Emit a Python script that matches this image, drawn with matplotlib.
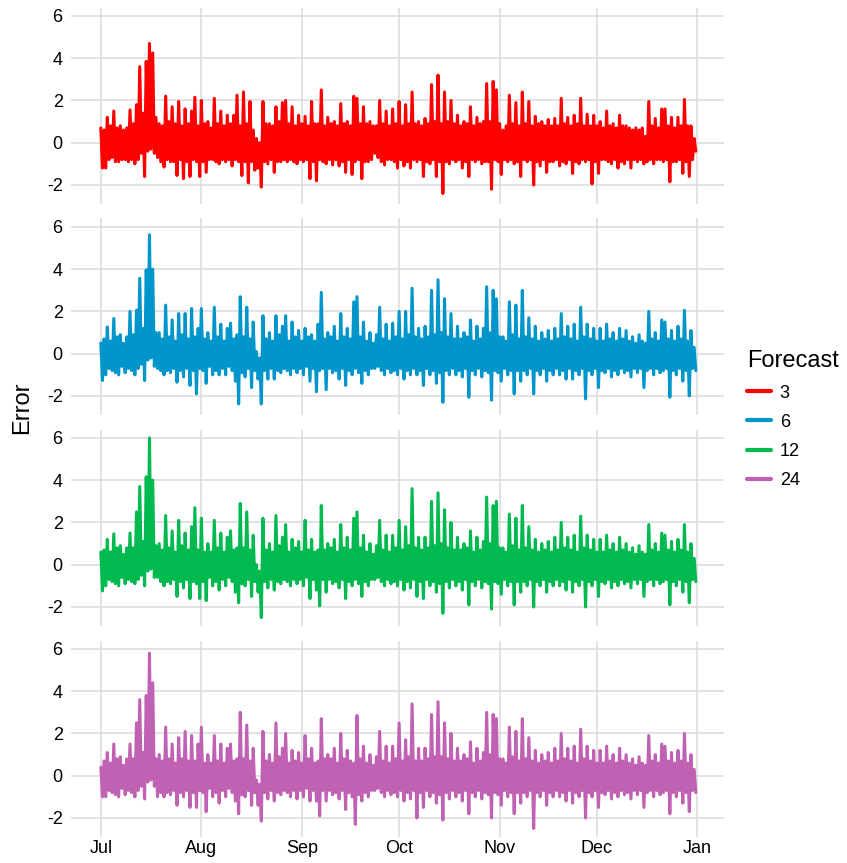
import matplotlib
matplotlib.use('Agg')
import matplotlib.pyplot as plt
import matplotlib.dates as mdates
import pandas as pd

plt.rcParams['font.family'] = ['Liberation Sans', 'DejaVu Sans']
plt.rcParams['axes.unicode_minus'] = False

# one day per entry, Jul 1 - Dec 31; daily high and low of the forecast error
days = pd.date_range('2015-07-01', periods=184, freq='D')

hi_3 = [0.7, 0.6, 1.2, 0.8, 1.5, 0.7, 0.8, 0.6, 0.7, 1.55,
        0.9, 1.8, 3.6, 1.4, 3.85, 4.7, 4.25, 1.2, 0.9, 0.8,
        2.2, 1.0, 1.7, 0.9, 1.95, 0.8, 1.6, 0.9, 1.5, 2.15,
        0.8, 2.0, 0.9, 1.0, 0.7, 2.1, 0.9, 1.5, 0.8, 1.3,
        0.9, 1.3, 2.25, 0.8, 2.4, 0.9, 1.95, 0.6, 0.2, 0.0,
        1.95, 0.9, 0.9, 0.8, 1.7, 1.0, 1.9, 2.0, 0.9, 1.7,
        0.8, 1.3, 0.9, 1.25, 0.8, 1.95, 0.9, 0.9, 2.5, 0.8,
        1.2, 0.9, 1.0, 0.8, 1.85, 0.9, 1.0, 0.8, 2.2, 2.1,
        0.9, 1.7, 0.9, 1.0, 0.8, 0.8, 2.0, 0.9, 1.5, 0.8,
        1.6, 0.9, 1.95, 0.8, 1.8, 0.9, 2.4, 0.9, 1.0, 0.8,
        1.15, 0.9, 2.75, 1.0, 3.2, 0.9, 2.4, 1.0, 2.0, 0.9,
        1.3, 0.8, 1.0, 0.9, 1.7, 0.8, 1.2, 0.9, 1.0, 2.8,
        1.0, 2.9, 2.5, 0.9, 0.6, 0.8, 2.25, 0.9, 1.9, 0.8,
        2.4, 0.9, 1.95, 0.8, 1.25, 0.9, 1.0, 0.8, 1.1, 0.8,
        1.15, 0.8, 2.1, 0.9, 1.2, 0.8, 1.3, 0.9, 2.1, 0.8,
        1.35, 0.8, 1.3, 0.8, 1.0, 0.7, 1.5, 0.8, 0.9, 0.7,
        1.3, 0.8, 0.8, 0.7, 0.6, 0.7, 0.6, 0.7, 0.3, 1.95,
        0.8, 1.15, 0.7, 1.6, 1.6, 0.8, 1.2, 0.7, 1.2, 0.8,
        2.05, 0.8, 0.8, 0.2]
lo_3 = [-1.2, -1.2, -0.8, -0.7, -0.9, -0.9, -0.8, -0.8, -0.9, -0.8,
        -1.0, -0.8, -0.5, -1.6, -0.4, -0.3, -0.5, -0.7, -0.9, -1.15,
        -0.8, -0.9, -0.9, -1.55, -0.8, -1.7, -0.9, -1.6, -0.8, -0.9,
        -1.6, -0.9, -1.4, -0.8, -0.8, -0.9, -1.0, -0.8, -0.9, -0.8,
        -1.1, -0.8, -0.9, -1.55, -0.9, -1.9, -0.9, -1.3, -1.2, -2.1,
        -0.9, -1.0, -0.8, -1.4, -0.9, -0.9, -0.8, -0.9, -0.8, -0.9,
        -1.0, -0.8, -0.9, -0.8, -1.7, -0.9, -1.8, -0.8, -0.9, -1.0,
        -0.8, -1.05, -0.8, -1.1, -0.9, -1.4, -0.8, -1.5, -0.9, -0.8,
        -1.7, -0.9, -0.9, -0.8, -0.5, -0.7, -0.9, -1.05, -0.8, -0.8,
        -0.9, -1.2, -0.8, -1.1, -0.9, -1.2, -0.8, -0.9, -0.8, -1.6,
        -0.9, -1.0, -0.8, -1.6, -0.9, -2.4, -0.9, -1.0, -0.8, -0.9,
        -0.8, -1.2, -0.9, -1.6, -0.8, -0.9, -0.8, -1.0, -0.9, -0.9,
        -2.2, -0.8, -0.9, -1.5, -0.8, -0.9, -0.8, -1.0, -0.9, -1.6,
        -0.8, -0.9, -0.8, -2.0, -0.9, -1.1, -0.8, -1.4, -0.9, -0.9,
        -0.8, -1.1, -0.9, -1.0, -0.8, -1.45, -0.9, -1.0, -0.8, -0.9,
        -0.8, -1.95, -0.9, -1.45, -0.8, -0.8, -0.9, -1.0, -0.8, -1.2,
        -0.9, -1.0, -0.8, -1.2, -0.8, -0.9, -0.8, -1.0, -0.9, -0.8,
        -1.0, -0.8, -0.8, -0.9, -0.8, -1.85, -0.9, -0.9, -0.8, -1.45,
        -0.9, -1.6, -0.8, -0.4]

hi_6 = [0.5, 0.7, 1.27, 0.6, 1.67, 0.8, 0.9, 0.5, 0.8, 2.0,
        0.9, 2.06, 3.57, 1.2, 3.97, 5.63, 4.0, 1.0, 1.0, 0.7,
        2.3, 0.8, 1.6, 0.6, 1.9, 0.9, 1.9, 0.7, 2.14, 0.8,
        1.2, 2.14, 0.7, 1.0, 0.6, 2.2, 0.8, 1.4, 0.6, 1.2,
        1.45, 0.7, 0.9, 2.7, 0.8, 2.2, 0.7, 1.5, 0.1, -0.2,
        1.8, 0.7, 1.0, 0.6, 1.8, 0.9, 1.3, 1.8, 0.6, 1.5,
        0.8, 1.1, 0.6, 1.2, 0.8, 0.9, 0.6, 1.4, 2.9, 0.7,
        1.0, 0.8, 1.3, 0.6, 1.9, 0.8, 1.2, 0.7, 2.46, 2.7,
        0.8, 1.5, 0.6, 1.0, 0.5, 0.9, 2.2, 0.7, 1.4, 0.6,
        1.45, 0.8, 2.0, 0.7, 2.0, 0.9, 3.1, 0.8, 1.2, 0.7,
        1.3, 0.8, 3.0, 0.9, 3.5, 1.0, 2.6, 0.8, 1.9, 0.7,
        1.3, 0.7, 1.0, 0.8, 1.6, 0.6, 1.3, 0.7, 1.2, 3.17,
        1.0, 3.0, 2.6, 0.8, 0.8, 0.6, 2.46, 0.9, 2.3, 0.7,
        3.0, 0.8, 1.7, 0.7, 1.3, 0.6, 1.0, 0.7, 1.1, 0.6,
        1.2, 0.7, 1.9, 0.8, 1.3, 0.7, 1.4, 0.6, 2.2, 0.8,
        1.4, 0.7, 1.2, 0.6, 1.2, 0.6, 1.4, 0.7, 1.0, 0.6,
        1.2, 0.7, 1.1, 0.6, 0.8, 0.5, 0.9, 0.6, 0.5, 2.0,
        0.7, 1.0, 0.6, 1.6, 1.5, 0.7, 1.1, 0.6, 1.3, 0.7,
        2.06, 0.6, 1.1, 0.3]
lo_6 = [-1.27, -1.0, -0.7, -0.8, -0.9, -1.0, -0.6, -0.9, -0.7, -0.8,
        -1.0, -0.7, -0.5, -1.27, -0.3, -0.2, -0.6, -0.7, -0.8, -1.0,
        -0.8, -0.9, -0.7, -1.35, -0.8, -1.1, -0.7, -1.5, -0.8, -1.9,
        -0.7, -0.8, -1.4, -0.6, -1.0, -0.8, -1.0, -0.7, -1.0, -0.6,
        -0.8, -1.3, -2.38, -0.9, -1.1, -0.7, -1.6, -0.8, -1.2, -2.38,
        -0.8, -1.2, -0.7, -1.2, -0.8, -0.9, -0.7, -0.8, -1.0, -0.7,
        -0.9, -0.7, -1.0, -0.6, -1.3, -0.7, -1.8, -0.8, -0.7, -1.7,
        -0.7, -0.9, -0.8, -1.2, -0.7, -1.5, -0.8, -1.0, -0.7, -0.9,
        -1.4, -0.8, -1.0, -0.7, -0.7, -0.6, -0.8, -1.0, -0.7, -0.9,
        -0.8, -1.0, -0.7, -1.2, -0.8, -1.0, -0.7, -1.0, -0.8, -1.5,
        -0.7, -1.0, -0.8, -1.4, -0.9, -2.3, -0.8, -1.0, -0.7, -1.0,
        -0.8, -1.1, -0.7, -2.06, -0.8, -1.0, -0.7, -1.1, -0.8, -0.9,
        -2.2, -0.8, -0.9, -1.3, -0.7, -1.0, -0.8, -1.9, -0.8, -1.3,
        -0.8, -1.0, -0.7, -1.9, -0.8, -1.0, -0.7, -1.3, -0.8, -1.0,
        -0.7, -1.0, -0.8, -1.2, -0.7, -1.2, -0.8, -1.0, -0.7, -2.14,
        -0.8, -1.0, -0.7, -1.6, -0.8, -0.9, -0.7, -1.1, -0.8, -1.0,
        -0.7, -0.9, -0.8, -1.1, -0.7, -0.9, -0.7, -1.6, -0.8, -0.7,
        -1.0, -0.7, -0.9, -0.8, -0.7, -2.06, -0.8, -1.0, -0.7, -1.3,
        -0.8, -2.0, -0.7, -0.8]

hi_12 = [0.6, 0.7, 1.2, 0.6, 1.46, 0.8, 0.9, 0.5, 0.8, 1.5,
         0.8, 2.5, 3.7, 1.1, 4.16, 6.0, 4.0, 0.9, 1.0, 0.7,
         2.33, 0.8, 1.6, 0.6, 2.1, 0.9, 1.5, 0.7, 1.8, 2.7,
         0.7, 2.2, 0.6, 1.0, 0.6, 2.1, 0.8, 1.5, 0.6, 1.3,
         1.6, 0.7, 0.8, 2.9, 0.8, 2.5, 0.7, 1.4, 0.0, -0.3,
         2.2, 0.7, 1.0, 0.6, 2.33, 0.9, 1.3, 1.9, 0.6, 1.2,
         0.8, 1.1, 0.6, 2.1, 0.7, 1.2, 0.6, 0.7, 2.8, 0.7,
         1.0, 0.8, 1.2, 0.6, 1.9, 0.8, 1.3, 0.7, 2.2, 2.5,
         0.8, 1.4, 0.6, 1.0, 0.5, 0.9, 2.1, 0.7, 1.4, 0.6,
         1.4, 0.8, 2.1, 0.7, 1.8, 0.9, 3.6, 0.8, 1.3, 0.7,
         1.3, 0.8, 3.0, 0.9, 3.4, 1.0, 2.6, 0.8, 2.0, 0.7,
         1.3, 0.7, 1.0, 0.8, 1.6, 0.6, 1.3, 0.7, 1.1, 3.2,
         1.0, 2.8, 3.0, 0.8, 0.8, 0.6, 2.4, 0.9, 2.2, 0.7,
         2.8, 0.8, 1.8, 0.7, 1.2, 0.6, 1.0, 0.7, 1.1, 0.6,
         1.3, 0.7, 2.0, 0.8, 1.3, 0.7, 1.4, 0.6, 2.3, 0.8,
         1.4, 0.7, 1.2, 0.6, 1.2, 0.6, 1.4, 0.7, 1.0, 0.6,
         1.3, 0.7, 1.0, 0.6, 0.8, 0.5, 0.9, 0.6, 0.5, 1.9,
         0.7, 1.0, 0.6, 1.5, 1.4, 0.7, 1.1, 0.6, 1.2, 0.7,
         1.9, 0.6, 1.0, 0.3]
lo_12 = [-1.24, -1.0, -0.7, -0.8, -0.9, -1.0, -0.6, -0.9, -0.7, -0.8,
         -0.9, -0.7, -0.5, -1.0, -0.3, -0.2, -0.6, -0.6, -0.8, -1.0,
         -0.8, -0.9, -0.7, -1.5, -0.8, -1.1, -0.7, -1.6, -0.8, -0.9,
         -1.6, -0.8, -1.7, -0.6, -1.0, -0.8, -1.2, -0.7, -1.0, -0.6,
         -0.8, -1.3, -1.8, -0.9, -1.0, -0.7, -1.5, -0.8, -1.3, -2.5,
         -0.8, -1.1, -0.7, -1.2, -0.8, -0.9, -0.7, -0.8, -1.0, -0.7,
         -0.9, -0.7, -1.0, -0.6, -1.6, -0.7, -1.2, -1.95, -0.7, -1.3,
         -0.7, -0.9, -0.8, -1.1, -0.7, -1.6, -0.8, -1.0, -0.7, -0.9,
         -1.5, -0.8, -1.0, -0.7, -0.7, -0.6, -0.8, -1.0, -0.7, -0.9,
         -0.8, -1.0, -0.7, -1.2, -0.8, -1.1, -0.7, -1.5, -0.8, -1.6,
         -0.7, -1.0, -0.8, -1.3, -0.9, -2.3, -0.8, -1.1, -0.7, -1.0,
         -0.8, -1.2, -0.7, -1.9, -0.8, -1.0, -0.7, -1.1, -0.8, -0.9,
         -2.1, -0.8, -0.9, -1.4, -0.7, -1.0, -0.8, -1.9, -0.8, -1.3,
         -0.8, -1.0, -0.7, -2.0, -0.8, -1.0, -0.7, -1.3, -0.8, -1.0,
         -0.7, -1.0, -0.8, -1.2, -0.7, -1.3, -0.8, -1.0, -0.7, -2.0,
         -0.8, -1.0, -0.7, -1.5, -0.8, -0.9, -0.7, -1.1, -0.8, -1.0,
         -0.7, -0.9, -0.8, -1.1, -0.7, -0.9, -0.7, -1.5, -0.8, -0.7,
         -1.0, -0.7, -0.9, -0.8, -0.7, -1.9, -0.8, -1.0, -0.7, -1.3,
         -0.8, -1.8, -0.7, -0.8]

hi_24 = [0.4, 0.7, 1.1, 0.6, 1.5, 0.8, 0.9, 0.5, 0.8, 1.5,
         0.8, 2.5, 3.6, 1.1, 3.8, 5.8, 4.4, 0.8, 1.0, 0.7,
         2.3, 0.8, 1.5, 0.6, 1.8, 0.8, 2.1, 0.7, 1.9, 0.7,
         1.5, 2.3, 0.6, 1.0, 0.6, 1.9, 0.7, 1.5, 0.6, 1.3,
         1.5, 0.7, 0.8, 3.0, 0.8, 2.4, 0.7, 1.3, -0.2, -0.4,
         2.1, 0.7, 1.0, 0.6, 2.5, 0.9, 1.3, 2.0, 0.6, 1.2,
         0.7, 1.1, 0.6, 1.9, 0.8, 1.3, 0.6, 0.7, 2.7, 0.8,
         1.0, 0.8, 1.3, 0.6, 2.0, 0.8, 1.2, 0.7, 0.6, 2.85,
         0.8, 1.4, 0.6, 1.0, 0.5, 0.9, 2.1, 0.7, 1.4, 0.6,
         1.4, 0.8, 2.5, 0.7, 1.7, 0.9, 3.4, 0.7, 1.3, 0.7,
         1.3, 0.8, 2.9, 0.9, 3.5, 0.9, 2.5, 0.8, 2.0, 0.7,
         1.3, 0.7, 1.0, 0.8, 1.6, 0.6, 1.3, 0.7, 1.1, 3.0,
         1.0, 2.9, 2.7, 0.8, 0.8, 0.6, 2.3, 0.9, 2.1, 0.7,
         2.7, 0.8, 1.8, 0.7, 1.2, 0.6, 1.0, 0.7, 1.1, 0.6,
         1.3, 0.7, 2.0, 0.8, 1.3, 0.7, 1.4, 0.6, 2.2, 0.8,
         1.4, 0.7, 1.2, 0.6, 1.2, 0.6, 1.4, 0.7, 1.0, 0.6,
         1.3, 0.7, 1.0, 0.6, 0.8, 0.5, 0.9, 0.6, 0.5, 1.9,
         0.7, 1.0, 0.6, 1.5, 1.4, 0.7, 1.1, 0.6, 1.2, 0.7,
         2.0, 0.6, 1.0, 0.3]
lo_24 = [-1.0, -1.0, -0.7, -0.8, -0.9, -1.0, -0.6, -0.9, -0.7, -0.8,
         -1.0, -0.7, -0.5, -1.1, -0.3, -0.2, -0.5, -1.0, -0.8, -1.0,
         -0.8, -0.9, -0.7, -1.4, -0.8, -1.0, -0.7, -1.5, -0.8, -1.5,
         -0.7, -0.8, -1.7, -0.6, -1.0, -0.8, -1.3, -0.7, -1.0, -0.6,
         -0.8, -1.2, -1.8, -0.9, -1.0, -0.7, -1.4, -0.8, -1.4, -2.15,
         -0.8, -1.1, -0.7, -1.2, -0.8, -0.9, -0.7, -0.8, -1.0, -0.7,
         -1.1, -0.7, -1.0, -0.6, -1.2, -0.7, -1.2, -1.9, -0.7, -1.2,
         -0.7, -0.9, -0.8, -1.1, -0.7, -1.6, -0.8, -1.0, -2.3, -0.9,
         -1.2, -0.8, -1.0, -0.7, -0.7, -0.6, -0.8, -1.0, -0.7, -0.9,
         -0.8, -1.0, -0.7, -1.2, -0.8, -1.1, -0.7, -2.0, -0.8, -1.5,
         -0.7, -1.0, -0.8, -1.3, -0.9, -2.1, -0.8, -1.1, -0.7, -1.0,
         -0.8, -1.2, -0.7, -1.8, -0.8, -1.0, -0.7, -1.1, -0.8, -0.9,
         -2.0, -0.8, -0.9, -1.4, -0.7, -1.0, -0.8, -1.8, -0.8, -1.3,
         -0.8, -1.0, -0.7, -2.5, -0.8, -1.0, -0.7, -1.4, -0.8, -1.0,
         -0.7, -1.0, -0.8, -1.2, -0.7, -1.3, -0.8, -1.0, -0.7, -2.0,
         -0.8, -1.0, -0.7, -1.5, -0.8, -0.9, -0.7, -1.1, -0.8, -1.0,
         -0.7, -0.9, -0.8, -1.1, -0.7, -0.9, -0.7, -1.5, -0.8, -0.7,
         -1.0, -0.7, -0.9, -0.8, -0.7, -1.8, -0.8, -1.0, -0.7, -1.3,
         -0.8, -1.7, -0.7, -0.8]

horizons = ['3', '6', '12', '24']
highs = [hi_3, hi_6, hi_12, hi_24]
lows = [lo_3, lo_6, lo_12, lo_24]
colors = ['#FF0000', '#0096CC', '#00BA50', '#C061B3']

fig = plt.figure(figsize=(8.47, 8.63), dpi=100)
W, H = 847.0, 863.0
left, right = 71, 724
tops = [7.5, 218.5, 429.5, 640.5]
ph = 196.5

xmin = mdates.date2num(days[0]) - 9.2
xmax = mdates.date2num(days[-1]) + 9.2
month_ticks = pd.date_range('2015-07-01', '2016-01-01', freq='MS')

handles = []
for i in range(4):
    # high at midnight, low at noon -> zigzag trace
    t, v = [], []
    for d, h, l in zip(days, highs[i], lows[i]):
        t += [d, d + pd.Timedelta(hours=12)]
        v += [h, l]
    ax = fig.add_axes([left / W, 1 - (tops[i] + ph) / H, (right - left) / W, ph / H])
    ln, = ax.plot(t, v, color=colors[i], lw=2.2,
                  solid_capstyle='round', solid_joinstyle='round')
    handles.append(ln)
    ax.set_xlim(xmin, xmax)
    ax.set_ylim(-2.9, 6.4)
    ax.set_yticks([-2, 0, 2, 4, 6])
    ax.set_xticks(month_ticks)
    ax.xaxis.set_major_formatter(mdates.DateFormatter('%b'))
    ax.grid(True, color='#DADADA', lw=1.1)
    ax.set_axisbelow(True)
    for s in ax.spines.values():
        s.set_visible(False)
    ax.tick_params(length=0, labelsize=13, colors='black', pad=6)
    if i < 3:
        ax.tick_params(labelbottom=False)
    else:
        ax.tick_params(axis='x', pad=2)

fig.text(22 / W, 1 - 408 / H, 'Error', rotation=90, fontsize=17,
         ha='center', va='center')

leg = fig.legend(handles, horizons, title='Forecast', loc='upper left',
                 bbox_to_anchor=(731 / W, 1 - 334 / H), frameon=False,
                 fontsize=13, title_fontsize=17, handlelength=1.3,
                 labelspacing=0.68, handletextpad=0.5, alignment='left')
for h in leg.legend_handles:
    h.set_linewidth(3)

fig.savefig('out.png', dpi=100)
